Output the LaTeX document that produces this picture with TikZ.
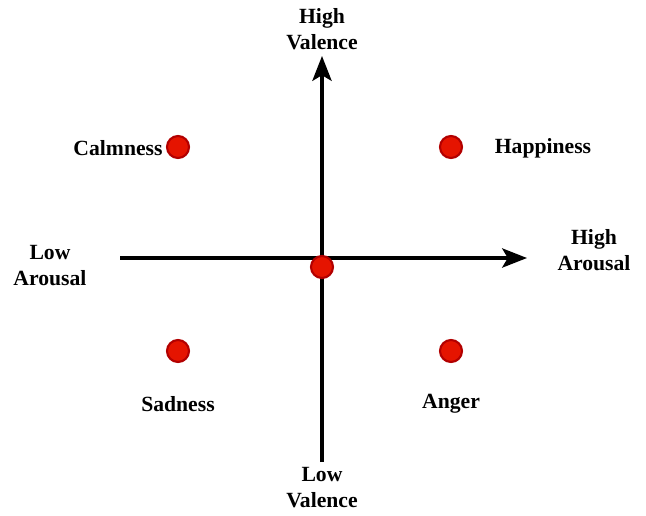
\documentclass[tikz,border=0pt]{standalone}
\usepackage{fontspec}
\setmainfont{Liberation Serif}
\usetikzlibrary{arrows.meta}
\definecolor{dotfill}{RGB}{229,20,0}
\definecolor{dotline}{RGB}{178,0,0}

\begin{document}
\begin{tikzpicture}[
  x=0.025cm, y=-0.025cm,
  font=\fontsize{15.4}{18.5}\selectfont\bfseries,
  every node/.style={align=center, inner sep=2pt},
  emo/.style  ={circle, draw=dotline, fill=dotfill, line width=1.5pt, minimum size=5.5mm, inner sep=0pt},
  axis/.style ={-{Stealth[length=6.2mm, width=4.8mm, inset=1.4mm]}, draw=black, line width=2.6pt}
]
% Frame: 646 x 515 px, y grows downwards
\useasboundingbox (0,0) rectangle (646,515);

% Axis end points
\coordinate (xmin) at (120,258);
\coordinate (xmax) at (527,258);
\coordinate (ymin) at (322,462);
\coordinate (ymax) at (322,56);

% Axes
\draw[axis] (xmin) -- (xmax);
\draw[axis] (ymin) -- (ymax);

% Axis labels
\node (hival)  at (322,29)  {High\\Valence};
\node (loval)  at (322,488) {Low\\Valence};
\node (loaro)  at (50,266)  {Low\\Arousal};
\node (hiaro)  at (594,250) {High\\Arousal};

% Emotion points
\node[emo] (centre) at (322,267) {};
\node[emo] (calm)   at (178,147) {};
\node[emo] (happy)  at (451,147) {};
\node[emo] (sad)    at (178,351) {};
\node[emo] (angry)  at (451,351) {};

% Emotion labels
\node (calmlbl)  at (118,148) {Calmness};
\node (happylbl) at (543,148) {Happiness};
\node (sadlbl)   at (178,404) {Sadness};
\node (angrylbl) at (451,404) {Anger};
\end{tikzpicture}
\end{document}
